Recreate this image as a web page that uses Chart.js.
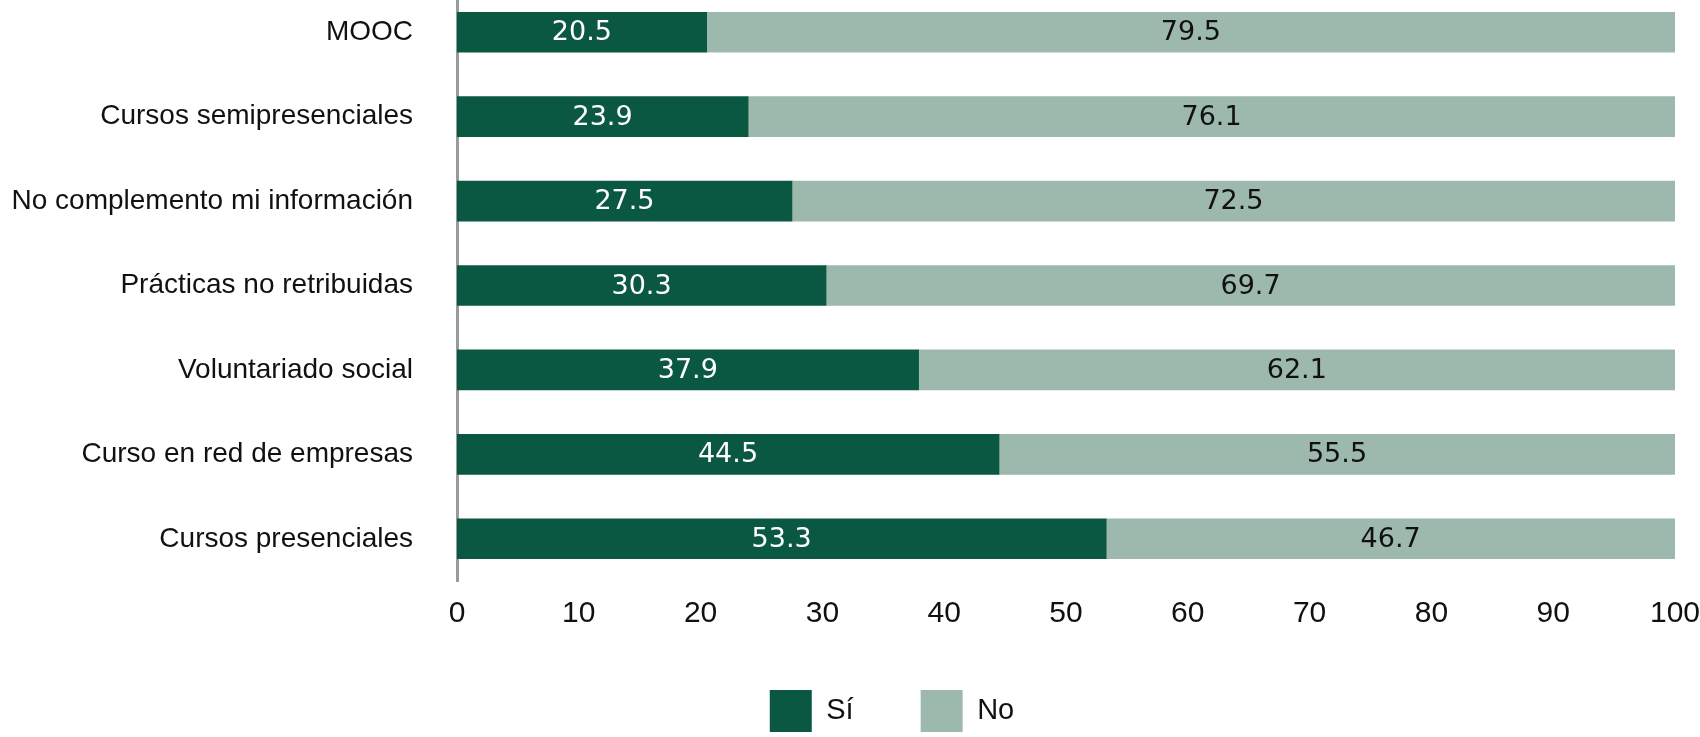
<!DOCTYPE html>
<html>
<head>
<meta charset="utf-8">
<script src="https://cdn.jsdelivr.net/npm/chart.js@4.4.1/dist/chart.umd.min.js"></script>
<style>
  html, body { margin: 0; padding: 0; background: #ffffff; }
  #wrap { width: 1700px; height: 737px; position: relative; }
</style>
</head>
<body>
<div id="wrap"><canvas id="c"></canvas></div>
<script>
const categories = [
  "MOOC",
  "Cursos semipresenciales",
  "No complemento mi información",
  "Prácticas no retribuidas",
  "Voluntariado social",
  "Curso en red de empresas",
  "Cursos presenciales"
];
const siValues = [20.5, 23.9, 27.5, 30.3, 37.9, 44.5, 53.3];
const noValues = [79.5, 76.1, 72.5, 69.7, 62.1, 55.5, 46.7];
const seriesNames = ["Sí", "No"];
const xTicks = [0, 10, 20, 30, 40, 50, 60, 70, 80, 90, 100];

const DARK = "#0b5842";
const LIGHT = "#9db8ad";
const ARIAL = "'Liberation Sans', Arial, sans-serif";
const SANS = "'DejaVu Sans', sans-serif";

const valueLabels = {
  id: "valueLabels",
  afterDatasetsDraw(chart) {
    const ctx = chart.ctx;
    ctx.save();
    ctx.font = "27px " + SANS;
    ctx.textAlign = "center";
    ctx.textBaseline = "middle";
    chart.data.datasets.forEach((ds, di) => {
      const meta = chart.getDatasetMeta(di);
      meta.data.forEach((el, i) => {
        const p = el.getProps(["x", "y", "base"], true);
        ctx.fillStyle = di === 0 ? "#ffffff" : "#111111";
        ctx.fillText(ds.data[i].toFixed(1), (p.x + p.base) / 2, p.y + 1);
      });
    });
    ctx.restore();
  }
};

// layout tweaks: legend offset to the right, category band starting slightly above the canvas top
const layoutTweak = {
  id: "layoutTweak",
  afterLayout(chart) {
    if (chart.legend) { chart.legend.left = 84; }
    const y = chart.scales.y;
    if (y) { y.top = -10; y.configure(); }
  }
};

new Chart(document.getElementById("c"), {
  type: "bar",
  data: {
    labels: categories,
    datasets: [
      { label: seriesNames[0], data: siValues, backgroundColor: DARK, borderWidth: 0, barThickness: 40 },
      { label: seriesNames[1], data: noValues, backgroundColor: LIGHT, borderWidth: 0, barThickness: 40 }
    ]
  },
  options: {
    indexAxis: "y",
    responsive: true,
    maintainAspectRatio: false,
    animation: false,
    devicePixelRatio: 1,
    layout: { padding: { top: 0, left: 0, right: 0, bottom: 0 } },
    scales: {
      x: {
        stacked: true,
        min: 0, max: 100,
        afterBuildTicks(scale) { scale.ticks = xTicks.map(v => ({ value: v })); },
        afterFit(scale) { scale.height = 42; scale.paddingRight = 25; },
        grid: { display: false, drawTicks: false },
        border: { display: false },
        ticks: { color: "#111111", font: { family: ARIAL, size: 30 }, padding: 15, maxRotation: 0 }
      },
      y: {
        stacked: true,
        afterFit(scale) { scale.width = 457; scale.paddingTop = 0; scale.paddingBottom = 0; },
        grid: { display: false, drawTicks: false },
        border: { display: true, color: "#9a9a9a", width: 3 },
        ticks: { color: "#111111", font: { family: ARIAL, size: 28 }, padding: 44 }
      }
    },
    plugins: {
      legend: {
        position: "bottom",
        maxHeight: 114,
        labels: {
          boxWidth: 42, boxHeight: 42,
          padding: 67,
          color: "#111111",
          font: { family: ARIAL, size: 29 }
        }
      },
      tooltip: { enabled: false },
      title: { display: false }
    }
  },
  plugins: [valueLabels, layoutTweak]
});
</script>
</body>
</html>
